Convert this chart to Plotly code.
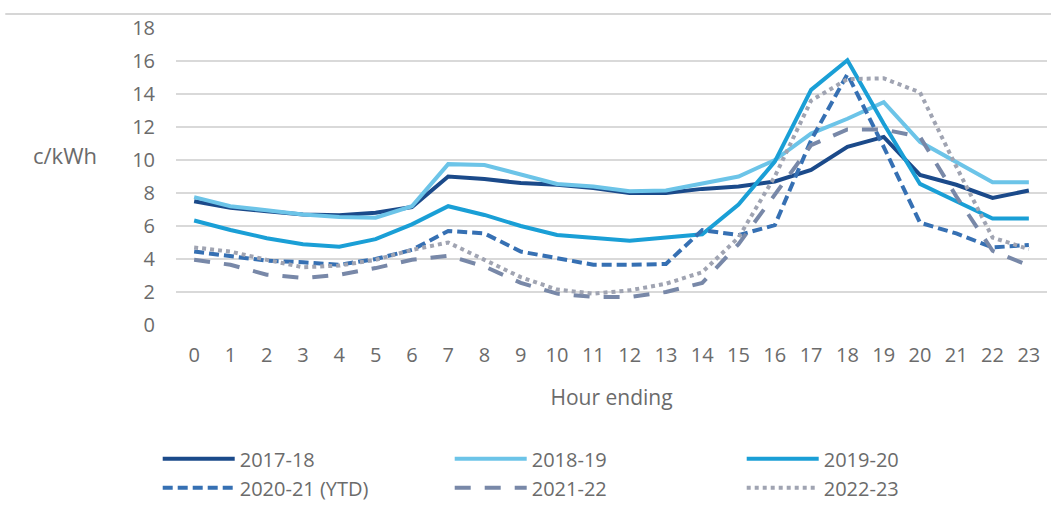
import plotly.graph_objects as go

hours = [str(h) for h in range(24)]

s2017_18 = [7.5, 7.1, 6.9, 6.7, 6.65, 6.8, 7.15, 9.0, 8.85, 8.6, 8.5, 8.3,
            8.0, 8.0, 8.25, 8.4, 8.7, 9.4, 10.8, 11.4, 9.1, 8.5, 7.7, 8.15]
s2018_19 = [7.75, 7.2, 6.95, 6.7, 6.55, 6.5, 7.2, 9.75, 9.7, 9.1, 8.55, 8.4,
            8.1, 8.15, 8.6, 9.0, 10.0, 11.6, 12.5, 13.5, 11.1, 9.9, 8.65, 8.65]
s2019_20 = [6.33, 5.76, 5.26, 4.9, 4.75, 5.2, 6.1, 7.2, 6.67, 6.0, 5.46, 5.26,
            5.1, 5.3, 5.5, 7.3, 9.9, 14.25, 16.05, 12.2, 8.55, 7.5, 6.45, 6.45]
s2020_21 = [4.45, 4.15, 3.9, 3.8, 3.65, 4.0, 4.55, 5.7, 5.55, 4.45, 4.05, 3.65,
            3.65, 3.7, 5.75, 5.45, 6.05, 11.2, 15.2, 10.8, 6.2, 5.55, 4.7, 4.85]
s2021_22 = [3.95, 3.65, 3.05, 2.85, 3.05, 3.45, 3.95, 4.2, 3.55, 2.55, 1.9, 1.7,
            1.7, 2.0, 2.55, 4.9, 7.9, 10.9, 11.85, 11.85, 11.4, 7.8, 4.5, 3.6]
s2022_23 = [4.7, 4.45, 3.95, 3.5, 3.6, 3.95, 4.55, 5.0, 3.95, 2.9, 2.15, 1.9,
            2.1, 2.5, 3.2, 5.3, 9.0, 13.6, 14.9, 14.95, 14.1, 9.6, 5.3, 4.6]

series_names = ["2017-18", "2018-19", "2019-20", "2020-21 (YTD)", "2021-22", "2022-23"]
series_values = [s2017_18, s2018_19, s2019_20, s2020_21, s2021_22, s2022_23]
colors = ["#1b4a8a", "#6cc4e8", "#1a9fd6", "#3670b3", "#7888a8", "#a0a4b2"]
dashes = ["solid", "solid", "solid", "10px,5px", "16px,14px", "dot"]

y_ticks = list(range(0, 19, 2))
text_color = "#6b6b6b"
font_family = "'Open Sans', Lato, sans-serif"

fig = go.Figure()
for name, vals, col, dash in zip(series_names, series_values, colors, dashes):
    fig.add_trace(go.Scatter(
        x=hours, y=vals, name=name, mode="lines",
        line=dict(color=col, width=4, dash=dash),
    ))

fig.update_layout(
    width=1051, height=506,
    margin=dict(l=176, r=4, t=28, b=181, autoexpand=False),
    plot_bgcolor="white", paper_bgcolor="white",
    font=dict(family=font_family, color=text_color, size=20),
    showlegend=True,
    legend=dict(
        orientation="h", x=-0.021, y=-0.385, xanchor="left", yanchor="top",
        entrywidth=205, entrywidthmode="pixels", itemwidth=72,
        font=dict(size=20, color=text_color), tracegroupgap=0,
    ),
    xaxis=dict(
        type="category", range=[-0.5, 23.5], showgrid=False, zeroline=False,
        showline=False, ticks="", tickfont=dict(size=20, color=text_color),
        ticklabelstandoff=16,
        title=dict(text="Hour ending", font=dict(size=21, color=text_color), standoff=23),
    ),
    yaxis=dict(
        range=[0, 18], tickvals=y_ticks, showgrid=True, gridcolor="#d9d9d9",
        gridwidth=2, zeroline=False, showline=False, ticks="",
        ticklabelstandoff=20, tickfont=dict(size=20, color=text_color),
    ),
    annotations=[dict(
        text="c/kWh", xref="paper", yref="paper", x=-0.127, y=0.572,
        xanchor="center", yanchor="middle", showarrow=False,
        font=dict(size=22, color=text_color),
    )],
    shapes=[dict(
        type="line", xref="paper", yref="paper", x0=-0.196, x1=1.01,
        y0=1.047, y1=1.047, line=dict(color="#c8c8c8", width=1.5),
    )],
)

fig.write_html("out.html", config={"displayModeBar": False},
               post_script="document.body.style.margin='0';")
